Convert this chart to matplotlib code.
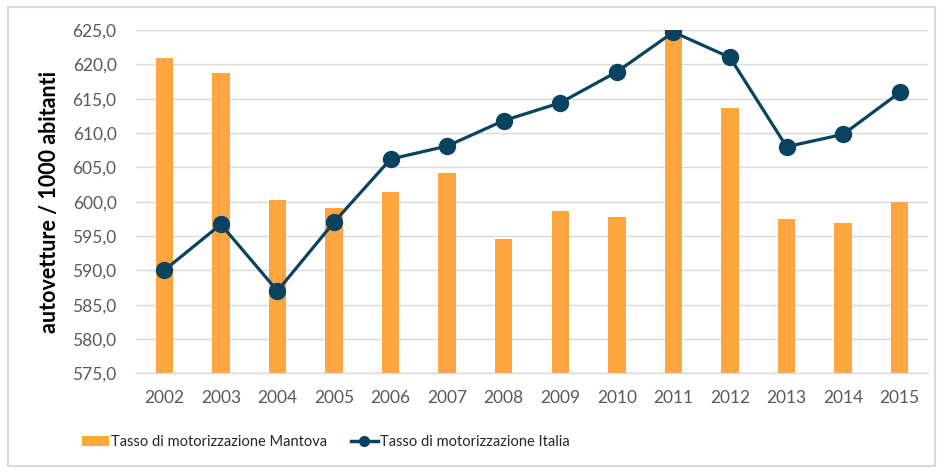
import matplotlib
matplotlib.use("Agg")
import matplotlib.pyplot as plt
from matplotlib.patches import Rectangle
from matplotlib.lines import Line2D
from matplotlib.patches import Patch
from matplotlib.ticker import FuncFormatter, MultipleLocator

years = ["2002", "2003", "2004", "2005", "2006", "2007", "2008",
         "2009", "2010", "2011", "2012", "2013", "2014", "2015"]
mantova = [620.9, 618.8, 600.2, 599.1, 601.4, 604.2, 594.6,
           598.7, 597.7, 624.0, 613.7, 597.5, 596.9, 599.9]
italia = [590.0, 596.7, 587.0, 597.0, 606.2, 608.1, 611.8,
          614.4, 618.9, 624.7, 621.0, 608.0, 609.8, 615.9]
label_mantova = "Tasso di motorizzazione Mantova"
label_italia = "Tasso di motorizzazione Italia"
ylabel = "autovetture / 1000 abitanti"

ORANGE = "#FFA641"
NAVY = "#0A435F"
GRID = "#D9D9D9"
TICK = "#595959"

plt.rcParams['font.family'] = ['Lato', 'DejaVu Sans']

W, H = 941, 472
fig = plt.figure(figsize=(W / 100, H / 100), dpi=100)
ax = fig.add_axes([136 / W, 1 - 373.3 / H, (928 - 136) / W, (373.3 - 30) / H])

x = list(range(len(years)))
ax.bar(x, mantova, width=0.31, color=ORANGE, zorder=2)
ax.plot(x, italia, color=NAVY, lw=2.3, marker='o', ms=11.5, zorder=3)

ax.set_ylim(575, 625)
ax.set_xlim(-0.5, len(years) - 0.5)
ax.yaxis.set_major_locator(MultipleLocator(5))
ax.yaxis.set_major_formatter(FuncFormatter(lambda v, p: f"{v:.1f}".replace('.', ',')))
ax.set_xticks(x)
ax.set_xticklabels(years)
ax.tick_params(axis='both', length=0, colors=TICK, labelsize=12.5)
ax.tick_params(axis='y', pad=14)
ax.tick_params(axis='x', pad=12)
ax.grid(axis='y', color=GRID, lw=1, zorder=0)
for s in ['top', 'right', 'left']:
    ax.spines[s].set_visible(False)
ax.spines['bottom'].set_color(GRID)
ax.spines['bottom'].set_linewidth(1)
ax.set_axisbelow(True)
fig.text(50 / W, 1 - 202 / H, ylabel, rotation=90, ha='center', va='center',
         fontsize=15.5, fontweight='bold', color='black')

handles = [Patch(facecolor=ORANGE, edgecolor='none', label=label_mantova),
           Line2D([0], [0], color=NAVY, lw=2.5, marker='o', ms=7, label=label_italia)]
fig.legend(handles=handles, loc='center', bbox_to_anchor=(326 / W, 1 - 442 / H),
           ncol=2, frameon=False, fontsize=10.5, handlelength=1.85, handletextpad=0.15,
           columnspacing=1.6, labelcolor='#262626')

fig.patches.append(Rectangle((8 / W, 1 - 466 / H), (935 - 8) / W, (466 - 7) / H,
                             transform=fig.transFigure, fill=False,
                             edgecolor=GRID, lw=1.5))

fig.savefig("out.png", dpi=100)
